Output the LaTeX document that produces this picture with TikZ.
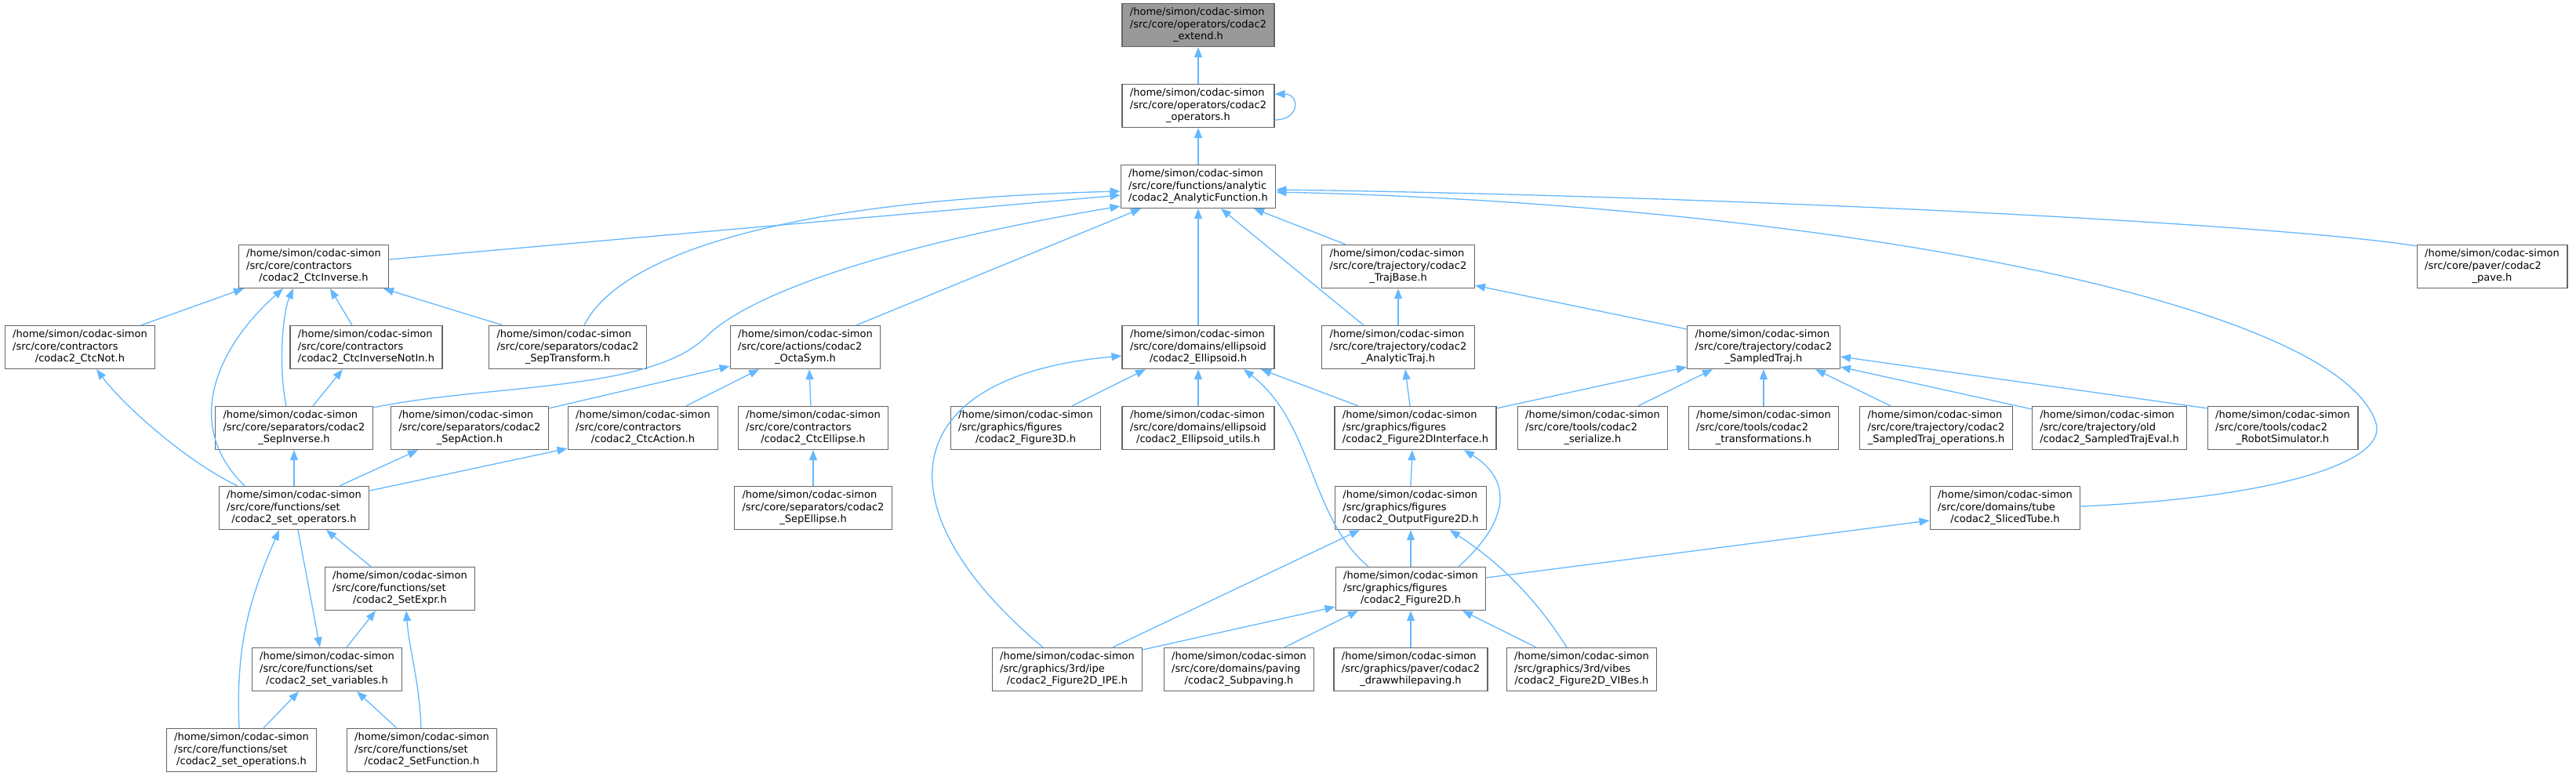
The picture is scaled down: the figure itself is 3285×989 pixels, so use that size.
\documentclass[tikz,border=0pt]{standalone}
\usepackage{fontspec}
\setmainfont{DejaVu Sans}
\usepackage{tikz}
\usetikzlibrary{arrows.meta}
\definecolor{edgeblue}{HTML}{63B8FF}
\definecolor{boxgray}{HTML}{666666}
\definecolor{extgray}{HTML}{999999}
\newcommand{\filelbl}[2]{\begin{tabular}{@{}l@{}}/home/simon/codac-simon\\#1\\\multicolumn{1}{@{}c@{}}{#2}\end{tabular}}

\begin{document}
\begin{tikzpicture}[x=1pt, y=-1pt,
	filebox/.style={draw=boxgray, line width=1.3pt, fill=white, inner xsep=10pt, inner ysep=0pt, minimum height=55pt, font=\fontsize{13}{15.2}\selectfont},
	edge/.style={draw=edgeblue, line width=1.3pt, -{Triangle[length=13pt,width=10pt]}}]
	\useasboundingbox (0,0) rectangle (3285,989);
	\node[filebox, fill=extgray] (EXT) at (1528,32) {\filelbl{/src/core/operators/codac2}{\_extend.h}};
	\node[filebox] (OPS) at (1528,135) {\filelbl{/src/core/operators/codac2}{\_operators.h}};
	\node[filebox] (AF) at (1528,238) {\filelbl{/src/core/functions/analytic}{/codac2\_AnalyticFunction.h}};
	\node[filebox] (CI) at (400,340) {\filelbl{/src/core/contractors}{/codac2\_CtcInverse.h}};
	\node[filebox] (TB) at (1783,340) {\filelbl{/src/core/trajectory/codac2}{\_TrajBase.h}};
	\node[filebox] (PV) at (3178,340) {\filelbl{/src/core/paver/codac2}{\_pave.h}};
	\node[filebox] (CN) at (102,443) {\filelbl{/src/core/contractors}{/codac2\_CtcNot.h}};
	\node[filebox] (CINI) at (467,443) {\filelbl{/src/core/contractors}{/codac2\_CtcInverseNotIn.h}};
	\node[filebox] (STF) at (724,443) {\filelbl{/src/core/separators/codac2}{\_SepTransform.h}};
	\node[filebox] (OS) at (1027,443) {\filelbl{/src/core/actions/codac2}{\_OctaSym.h}};
	\node[filebox] (EL) at (1528,443) {\filelbl{/src/core/domains/ellipsoid}{/codac2\_Ellipsoid.h}};
	\node[filebox] (AT) at (1783,443) {\filelbl{/src/core/trajectory/codac2}{\_AnalyticTraj.h}};
	\node[filebox] (ST) at (2249,443) {\filelbl{/src/core/trajectory/codac2}{\_SampledTraj.h}};
	\node[filebox] (SI) at (375,546) {\filelbl{/src/core/separators/codac2}{\_SepInverse.h}};
	\node[filebox] (SA) at (599,546) {\filelbl{/src/core/separators/codac2}{\_SepAction.h}};
	\node[filebox] (CA) at (820,546) {\filelbl{/src/core/contractors}{/codac2\_CtcAction.h}};
	\node[filebox] (CE) at (1037,546) {\filelbl{/src/core/contractors}{/codac2\_CtcEllipse.h}};
	\node[filebox] (F3) at (1308,546) {\filelbl{/src/graphics/figures}{/codac2\_Figure3D.h}};
	\node[filebox] (ELU) at (1528,546) {\filelbl{/src/core/domains/ellipsoid}{/codac2\_Ellipsoid\_utils.h}};
	\node[filebox] (F2I) at (1805,546) {\filelbl{/src/graphics/figures}{/codac2\_Figure2DInterface.h}};
	\node[filebox] (SER) at (2031,546) {\filelbl{/src/core/tools/codac2}{\_serialize.h}};
	\node[filebox] (TRF) at (2249,546) {\filelbl{/src/core/tools/codac2}{\_transformations.h}};
	\node[filebox] (STO) at (2469,546) {\filelbl{/src/core/trajectory/codac2}{\_SampledTraj\_operations.h}};
	\node[filebox] (STE) at (2690,546) {\filelbl{/src/core/trajectory/old}{/codac2\_SampledTrajEval.h}};
	\node[filebox] (RS) at (2911,546) {\filelbl{/src/core/tools/codac2}{\_RobotSimulator.h}};
	\node[filebox] (SOP) at (375,648) {\filelbl{/src/core/functions/set}{/codac2\_set\_operators.h}};
	\node[filebox] (SE) at (1037,648) {\filelbl{/src/core/separators/codac2}{\_SepEllipse.h}};
	\node[filebox] (OF) at (1799,648) {\filelbl{/src/graphics/figures}{/codac2\_OutputFigure2D.h}};
	\node[filebox] (TUBE) at (2557,648) {\filelbl{/src/core/domains/tube}{/codac2\_SlicedTube.h}};
	\node[filebox] (SX) at (510,751) {\filelbl{/src/core/functions/set}{/codac2\_SetExpr.h}};
	\node[filebox] (F2) at (1799,751) {\filelbl{/src/graphics/figures}{/codac2\_Figure2D.h}};
	\node[filebox] (SV) at (417,854) {\filelbl{/src/core/functions/set}{/codac2\_set\_variables.h}};
	\node[filebox] (IPE) at (1361,854) {\filelbl{/src/graphics/3rd/ipe}{/codac2\_Figure2D\_IPE.h}};
	\node[filebox] (PAV) at (1580,854) {\filelbl{/src/core/domains/paving}{/codac2\_Subpaving.h}};
	\node[filebox] (DWP) at (1799,854) {\filelbl{/src/graphics/paver/codac2}{\_drawwhilepaving.h}};
	\node[filebox] (VIB) at (2017,854) {\filelbl{/src/graphics/3rd/vibes}{/codac2\_Figure2D\_VIBes.h}};
	\node[filebox] (SOS) at (308,957) {\filelbl{/src/core/functions/set}{/codac2\_set\_operations.h}};
	\node[filebox] (SF) at (538,957) {\filelbl{/src/core/functions/set}{/codac2\_SetFunction.h}};

	\draw[edge] (OPS.north) -- (EXT.south);
	\draw[edge] ([yshift=-18pt]OPS.east) .. controls (1658,153) and (1658,120) .. ([yshift=15pt]OPS.east);
	\draw[edge] (AF.north) -- (OPS.south);
	\draw[edge] ([yshift=9pt]CI.east) -- ([yshift=-11pt]AF.west);
	\draw[edge] ([xshift=21pt]STF.north) .. controls (790,325) and (1000,255) .. ([yshift=-6pt]AF.west);
	\draw[edge] ([yshift=26pt]SI.east) .. controls (620,490) and (830,500) .. (900,430) .. controls (960,370) and (1150,310) .. ([yshift=-25pt]AF.west);
	\draw[edge] ([xshift=65pt]OS.north) -- ([xshift=-73pt]AF.south);
	\draw[edge] (EL.north) -- (AF.south);
	\draw[edge] ([xshift=-44pt]AT.north) -- ([xshift=29pt]AF.south);
	\draw[edge] ([xshift=-67pt]TB.north) -- ([xshift=71pt]AF.south);
	\draw[edge] ([yshift=-2pt]PV.north west) .. controls (2900,285) and (2200,250) .. ([yshift=-4pt]AF.east);
	\draw[edge] ([yshift=2pt]TUBE.east) .. controls (2900,635) and (3045,590) .. (3030,540) .. controls (2980,380) and (2300,260) .. ([yshift=-7pt]AF.east);

	\draw[edge] ([xshift=78pt]CN.north) -- ([xshift=-89pt]CI.south);
	\draw[edge] ([xshift=-63pt]SOP.north) .. controls (230,540) and (280,440) .. ([xshift=-39pt]CI.south);
	\draw[edge] ([xshift=-10pt]SI.north) .. controls (355,470) and (360,400) .. ([xshift=-26pt]CI.south);
	\draw[edge] ([xshift=-18pt]CINI.north) -- ([xshift=21pt]CI.south);
	\draw[edge] ([xshift=-83pt]STF.north) -- ([xshift=89pt]CI.south);
	\draw[edge] ([xshift=-72pt]SOP.north) .. controls (240,590) and (160,520) .. ([xshift=21pt]CN.south);
	\draw[edge] ([xshift=24pt]SI.north) -- ([xshift=-30pt]CINI.south);
	\draw[edge] (SOP.north) -- (SI.south);
	\draw[edge] ([xshift=58pt]SOP.north) -- ([xshift=-66pt]SA.south);
	\draw[edge] ([yshift=22pt]SOP.east) -- ([yshift=2pt]CA.south west);

	\draw[edge] ([yshift=-3pt]SA.north east) -- ([yshift=4pt]OS.south west);
	\draw[edge] ([xshift=55pt]CA.north) -- ([xshift=-59pt]OS.south);
	\draw[edge] ([xshift=-3pt]CE.north) -- ([xshift=5pt]OS.south);
	\draw[edge] (SE.north) -- (CE.south);

	\draw[edge] ([xshift=-31pt]IPE.north) .. controls (1120,650) and (1140,480) .. ([yshift=-11pt]EL.west);
	\draw[edge] ([xshift=59pt]F3.north) -- ([xshift=-67pt]EL.south);
	\draw[edge] (ELU.north) -- (EL.south);
	\draw[edge] ([xshift=-54pt]F2.north) .. controls (1670,660) and (1675,540) .. ([xshift=58pt]EL.south);
	\draw[edge] ([xshift=-73pt]F2I.north) -- ([xshift=80pt]EL.south);

	\draw[edge] (OF.north) -- ([xshift=-4pt]F2I.south);
	\draw[edge] ([xshift=61pt]F2.north) .. controls (1930,660) and (1925,610) .. ([xshift=62pt]F2I.south);
	\draw[edge] ([xshift=-7pt]F2I.north) -- ([xshift=9pt]AT.south);
	\draw[edge] ([yshift=-3pt]F2I.north east) -- ([yshift=3pt]ST.south west);
	\draw[edge] (AT.north) -- (TB.south);
	\draw[edge] ([yshift=-5pt]ST.north west) -- ([yshift=4pt]TB.south east);

	\draw[edge] ([xshift=58pt]SER.north) -- ([xshift=-65pt]ST.south);
	\draw[edge] (TRF.north) -- (ST.south);
	\draw[edge] ([xshift=-58pt]STO.north) -- ([xshift=66pt]ST.south);
	\draw[edge] ([yshift=-4pt]STE.north west) -- ([yshift=3pt]ST.south east);
	\draw[edge] ([yshift=-3pt]RS.north west) -- ([yshift=-12pt]ST.east);

	\draw[edge] ([xshift=58pt]IPE.north) -- ([xshift=-65pt]OF.south);
	\draw[edge] (F2.north) -- (OF.south);
	\draw[edge] ([xshift=-19pt]VIB.north) .. controls (1950,750) and (1900,710) .. ([xshift=50pt]OF.south);
	\draw[edge] ([yshift=-3pt]IPE.north east) -- ([yshift=5pt]F2.south west);
	\draw[edge] ([xshift=58pt]PAV.north) -- ([xshift=-67pt]F2.south);
	\draw[edge] (DWP.north) -- (F2.south);
	\draw[edge] ([xshift=-58pt]VIB.north) -- ([xshift=66pt]F2.south);
	\draw[edge] ([yshift=14pt]F2.east) -- ([yshift=-16pt]TUBE.west);

	\draw[edge] ([xshift=-37pt]SX.north) -- ([xshift=41pt]SOP.south);
	\draw[edge] ([xshift=-3pt]SOS.north) .. controls (300,820) and (320,760) .. ([xshift=-19pt]SOP.south);
	\draw[edge] ([xshift=5pt]SOP.south) -- ([xshift=-9pt]SV.north);
	\draw[edge] ([xshift=28pt]SOS.north) -- ([xshift=-36pt]SV.south);
	\draw[edge] ([xshift=-32pt]SF.north) -- ([xshift=38pt]SV.south);
	\draw[edge] ([xshift=25pt]SV.north) -- ([xshift=-31pt]SX.south);
	\draw[edge] ([xshift=-1pt]SF.north) .. controls (535,870) and (522,830) .. ([xshift=8pt]SX.south);
\end{tikzpicture}
\end{document}
